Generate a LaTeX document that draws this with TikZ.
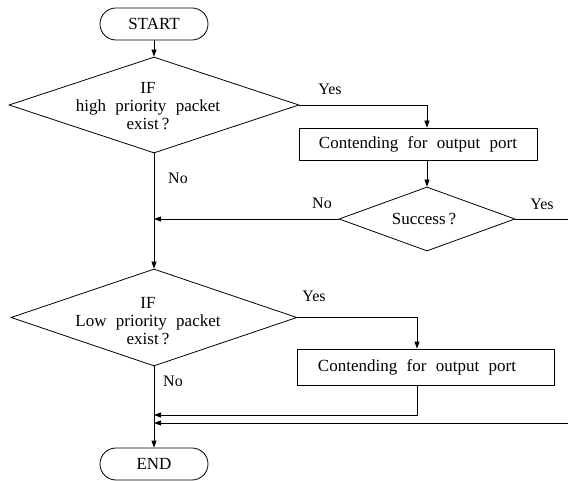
\documentclass[tikz,border=0pt]{standalone}
\usepackage{fontspec}
\setmainfont{Liberation Serif}
\newfontfamily\widefont[WordSpace=2.2]{Liberation Serif}
\usetikzlibrary{shapes.geometric,arrows.meta}
\tikzset{
  lbl/.style={font=\fontsize{16}{17}\selectfont, inner sep=0pt},
  txt/.style={font=\widefont\fontsize{17}{18}\selectfont, align=center, inner sep=0pt},
  term/.style={draw, rectangle, rounded corners=16pt, minimum width=108pt, minimum height=32pt, inner sep=0pt, font=\fontsize{17}{18}\selectfont},
  dia/.style={draw, diamond, inner sep=0pt},
  proc/.style={draw, rectangle, inner sep=0pt},
  arr/.style={-{Triangle[length=7pt,width=5pt]}},
}
\begin{document}
\begin{tikzpicture}[x=1pt,y=-1pt,line width=0.8pt]
\useasboundingbox (0,0) rectangle (568,481);
\node[term] (start) at (154,24) {START};
\node[dia, minimum width=290pt, minimum height=96pt] (d1) at (154,105) {};
\node[txt] (d1t) at (148,106) {IF\\high priority packet\\exist\hspace{3pt}?};
\node[proc, txt, minimum width=238pt, minimum height=32pt] (b1) at (418,144) {Contending for output port};
\node[dia, minimum width=176pt, minimum height=64pt] (d2) at (427,219) {};
\node[txt] (d2t) at (424,219) {Success\hspace{3pt}?};
\node[dia, minimum width=286pt, minimum height=97pt] (d3) at (154,317.5) {};
\node[txt] (d3t) at (148,321) {IF\\Low priority packet\\exist\hspace{3pt}?};
\node[proc, minimum width=257pt, minimum height=36pt] (b2) at (425.5,367) {};
\node[txt] (b2t) at (417,367) {Contending for output port};
\node[term] (end) at (154,464) {END};

\coordinate (c1) at (427,105);
\coordinate (e2) at (568,219);
\coordinate (c3) at (417,317.5);
\coordinate (c4) at (417,415);
\coordinate (e4) at (568,423);

\draw[arr] (start.south) -- (d1.north);
\draw[arr] (d1.east) -- (c1) -- (c1 |- b1.north);
\draw[arr] (d2.north |- b1.south) -- (d2.north);
\draw[arr] (d2.west) -- (d2.west -| d1.south);
\draw (d2.east) -- (e2);
\draw[arr] (d1.south) -- (d3.north);
\draw[arr] (d3.east) -- (c3) -- (c3 |- b2.north);
\draw[arr] (c3 |- b2.south) -- (c4) -- (c4 -| d3.south);
\draw[arr] (e4) -- (e4 -| d3.south);
\draw[arr] (d3.south) -- (end.north);

\node[lbl] (y1) at (330,89) {Yes};
\node[lbl] (n1) at (178,178) {No};
\node[lbl] (n2) at (322,203) {No};
\node[lbl] (y2) at (542,204) {Yes};
\node[lbl] (y3) at (314,296) {Yes};
\node[lbl] (n3) at (173,381) {No};
\end{tikzpicture}
\end{document}
